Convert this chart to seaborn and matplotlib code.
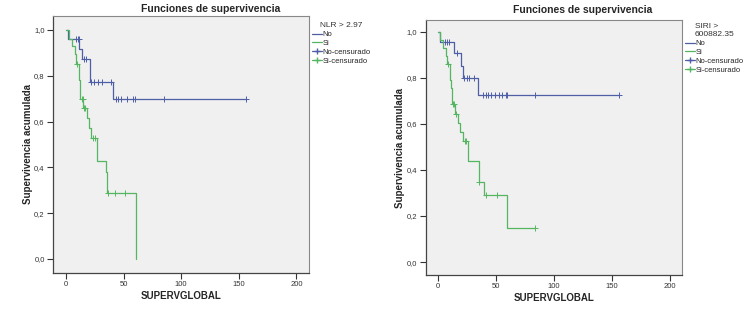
import matplotlib
matplotlib.use("Agg")
import matplotlib.pyplot as plt
import seaborn as sns
from matplotlib.lines import Line2D

# curvas Kaplan-Meier (tiempo de cada escalon, supervivencia tras el escalon)
nlr_no_t = [0, 2, 11.3, 14.2, 21, 40.4, 156.3]
nlr_no_s = [1.0, 0.961, 0.916, 0.872, 0.773, 0.70, 0.70]
nlr_no_cens_t = [8.7, 10.1, 11, 15.5, 17.7, 22, 24, 27.5, 31.3, 39.4,
                 43.1, 45.1, 48, 53, 58.2, 59.9, 84.8, 156.3]
nlr_no_cens_s = [0.961, 0.961, 0.961, 0.872, 0.872, 0.773, 0.773, 0.773, 0.773, 0.773,
                 0.70, 0.70, 0.70, 0.70, 0.70, 0.70, 0.70, 0.70]

nlr_si_t = [0, 3, 5.5, 7.5, 8.7, 11.5, 12.5, 15, 18.5, 20, 22, 26.5, 34.5, 36, 60.5]
nlr_si_s = [1.0, 0.96, 0.93, 0.894, 0.853, 0.78, 0.70, 0.658, 0.615, 0.571, 0.53,
            0.43, 0.381, 0.288, 0.0]
nlr_si_cens_t = [9.2, 13.6, 14.5, 15.8, 16.5, 23.5, 25, 36.5, 42.3, 51]
nlr_si_cens_s = [0.853, 0.70, 0.70, 0.658, 0.658, 0.53, 0.53, 0.288, 0.288, 0.288]

siri_no_t = [0, 2, 14, 20.1, 21.6, 34.8, 156]
siri_no_s = [1.0, 0.957, 0.906, 0.852, 0.80, 0.725, 0.725]
siri_no_cens_t = [6.5, 8, 9.8, 16.5, 23, 25, 27.2, 31, 39.3, 41.4, 43.4, 46.2, 49.4,
                  52.8, 55.7, 58.9, 60.2, 84.2, 156]
siri_no_cens_s = [0.957, 0.957, 0.957, 0.906, 0.80, 0.80, 0.80, 0.80, 0.725, 0.725, 0.725,
                  0.725, 0.725, 0.725, 0.725, 0.725, 0.725, 0.725, 0.725]

siri_si_t = [0, 2.3, 4.9, 7.2, 8, 10.9, 11.5, 12.6, 15.2, 17.8, 19.5, 21.6, 26.5,
             35.6, 40, 60, 84]
siri_si_s = [1.0, 0.965, 0.93, 0.895, 0.862, 0.79, 0.755, 0.685, 0.645, 0.605, 0.565,
             0.525, 0.437, 0.349, 0.291, 0.146, 0.146]
siri_si_cens_t = [9.2, 13.2, 14.4, 16, 23.5, 24.4, 35.8, 42, 51.1, 84]
siri_si_cens_s = [0.862, 0.685, 0.685, 0.645, 0.525, 0.525, 0.349, 0.291, 0.291, 0.146]

x_ticks = [0, 50, 100, 150, 200]
y_ticks = [0.0, 0.2, 0.4, 0.6, 0.8, 1.0]
y_tick_labels = ["0,0", "0,2", "0,4", "0,6", "0,8", "1,0"]

azul = "#4e5fa6"
verde = "#55b662"

sns.set_style("white")
plt.rcParams["font.family"] = ["Liberation Sans", "DejaVu Sans"]

fig = plt.figure(figsize=(7.5, 3.12), dpi=100)


def panel(rect, xlim, ylim, curvas, titulo_leyenda, leyenda_pos, titulo_x, titulo_y):
    ax = fig.add_axes(rect)
    ax.set_facecolor("#f0f0f0")
    for (t, s, ct, cs, col) in curvas:
        sns.lineplot(x=t, y=s, estimator=None, sort=False, drawstyle="steps-post",
                     color=col, linewidth=0.9, ax=ax)
        sns.scatterplot(x=ct, y=cs, marker="+", s=18, color=col, linewidth=0.7, ax=ax)
    ax.set_xlim(xlim)
    ax.set_ylim(ylim)
    ax.set_xticks(x_ticks)
    ax.set_yticks(y_ticks)
    ax.set_yticklabels(y_tick_labels)
    ax.tick_params(axis="both", direction="out", length=4, width=0.8, pad=2,
                   labelsize=5.5, colors="#333333", left=True, bottom=True)
    for lado in ["left", "bottom"]:
        ax.spines[lado].set_color("#444444")
        ax.spines[lado].set_linewidth(0.9)
    for lado in ["top", "right"]:
        ax.spines[lado].set_color("#888888")
        ax.spines[lado].set_linewidth(0.8)
    ax.set_xlabel("SUPERVGLOBAL", fontsize=7, fontweight="bold", labelpad=2)
    ax.set_ylabel("Supervivencia acumulada", fontsize=7, fontweight="bold", labelpad=1)
    fig.text(titulo_x, titulo_y, "Funciones de supervivencia", fontsize=7.5,
             fontweight="bold", ha="center", va="center")
    handles = [Line2D([], [], color=azul, lw=0.9),
               Line2D([], [], color=verde, lw=0.9),
               Line2D([], [], color=azul, lw=0.9, marker="+", markersize=5),
               Line2D([], [], color=verde, lw=0.9, marker="+", markersize=5)]
    leg = fig.legend(handles, ["No", "Si", "No-censurado", "Si-censurado"],
                     title=titulo_leyenda, loc="upper left", bbox_to_anchor=leyenda_pos,
                     frameon=False, fontsize=5.5, title_fontsize=6, handlelength=1.2,
                     handletextpad=0.1, labelspacing=0.2, borderpad=0.2)
    leg.get_title().set_color("#333333")
    return ax


panel([53 / 750, 1 - 273 / 312, 256 / 750, 257 / 312], (-11.3, 211), (-0.061, 1.061),
      [(nlr_no_t, nlr_no_s, nlr_no_cens_t, nlr_no_cens_s, azul),
       (nlr_si_t, nlr_si_s, nlr_si_cens_t, nlr_si_cens_s, verde)],
      "NLR > 2.97", (307 / 750, 1 - 17 / 312), 211 / 750, 1 - 9 / 312)

panel([425.7 / 750, 1 - 275 / 312, 256.3 / 750, 255 / 312], (-10.3, 210.6), (-0.056, 1.051),
      [(siri_no_t, siri_no_s, siri_no_cens_t, siri_no_cens_s, azul),
       (siri_si_t, siri_si_s, siri_si_cens_t, siri_si_cens_s, verde)],
      "SIRI >\n600882.35", (680 / 750, 1 - 18 / 312), 583 / 750, 1 - 10 / 312)

fig.savefig("out.png", dpi=100, facecolor="white")
